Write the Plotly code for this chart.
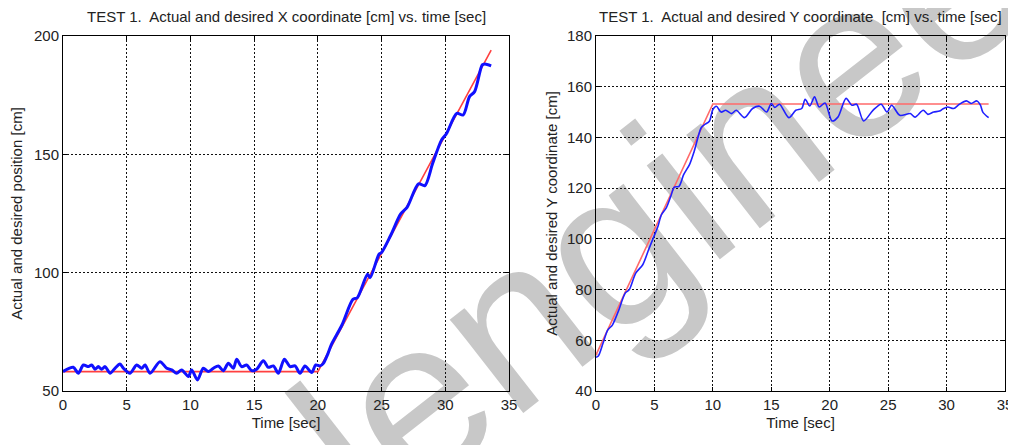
import plotly.graph_objects as go

# ---------------------------------------------------------------------------
# Data
# ---------------------------------------------------------------------------
x_des_t = [0, 20, 33.6]
x_des_v = [58.2, 58.2, 194.0]

x_act_t = [0.0, 0.81, 1.20, 1.60, 1.99, 2.25, 2.51, 2.77, 3.03, 3.30, 3.69, 4.08,
           4.47, 4.74, 5.26, 5.78, 6.17, 6.44, 6.83, 7.61, 8.14, 8.53, 8.92, 9.31,
           9.84, 10.10, 10.55, 11.01, 11.40, 11.80, 12.19, 12.58, 12.98, 13.37,
           13.63, 14.02, 14.41, 14.81, 15.20, 15.72, 16.11, 16.51, 16.90, 17.37,
           17.82, 18.21, 18.60, 18.99, 19.52, 19.83, 20.17, 20.43, 20.8, 21.05,
           21.9, 22.75, 23.1, 23.9, 24.1, 24.8, 25.0, 25.7, 26.5, 27.0, 27.9,
           28.4, 29.0, 29.7, 30.1, 30.9, 31.4, 31.9, 32.3, 32.9, 33.1, 33.6]
x_act_v = [58.2, 60.0, 57.5, 61.0, 60.3, 61.0, 59.2, 60.3, 59.2, 60.3, 57.5, 59.6,
           61.4, 59.6, 57.5, 61.0, 59.6, 61.0, 57.5, 62.4, 59.6, 58.9, 57.5, 58.9,
           56.1, 58.9, 54.7, 59.6, 58.2, 59.6, 60.6, 58.6, 61.7, 59.6,
           63.4, 60.3, 61.0, 58.6, 59.2, 62.8, 60.0, 60.6, 57.5, 63.4,
           60.3, 60.6, 57.5, 60.6, 57.8, 61.0, 60.6, 61.7, 65.9, 69.5,
           78.0, 88.7, 89.4, 99.3, 97.9, 107.8, 108.5, 115.6, 124.8, 127.6, 137.5,
           136.8, 146.0, 156.0, 158.8, 167.3, 166.6, 174.4, 176.5, 187.8, 188.2, 187.4]

y_des_t = [0, 10, 33.6]
y_des_v = [54.2, 153.2, 153.2]

y_act_t = [0.0, 0.2, 0.6, 1.0, 1.4, 1.9, 2.5, 2.85, 3.4, 4.0, 4.5, 4.9, 5.3, 5.6,
           6.0, 6.4, 6.7, 7.1, 7.5, 8.0, 8.4, 9.0, 9.3, 9.7, 10.0, 10.3, 10.7,
           11.1, 11.6, 12.0, 12.7, 13.4, 14.0, 14.6, 15.0, 15.3, 15.7, 16.5, 17.1,
           17.6, 17.9, 18.3, 18.7, 19.1, 19.6, 20.2, 20.7, 21.4, 21.9, 22.3, 22.9,
           23.7, 24.4, 24.9, 25.3, 26.0, 26.9, 27.3, 28.0, 28.4, 28.9, 29.4, 29.7,
           30.1, 30.6, 31.1, 31.7, 32.1, 32.6, 32.9, 33.1, 33.6]
y_act_v = [53.3, 53.8, 58.8, 64.0, 66.0, 71.3, 78.6, 80.0, 86.5, 89.8, 95.7, 100.3,
           104.9, 109.5, 112.1, 116.8, 120.4, 120.7, 125.3, 129.3, 134.5, 143.8,
           145.1, 146.4, 151.0, 152.3, 150.0, 150.7, 149.4, 150.7, 147.8, 151.4,
           152.3, 150.0, 153.4, 151.8, 153.1, 147.8, 150.7, 151.4, 155.0, 152.4,
           156.0, 152.0, 153.6, 146.5, 148.0, 155.4, 152.7, 153.1, 146.5, 150.7,
           153.1, 150.0, 152.7, 148.7, 149.4, 148.0, 150.7, 149.1, 150.0, 150.4,
           151.3, 152.0, 151.4, 153.1, 154.4, 153.4, 154.4, 152.7, 150.0, 147.8]

x_ticks = [0, 5, 10, 15, 20, 25, 30, 35]
left_y_ticks = [50, 100, 150, 200]
right_y_ticks = [40, 60, 80, 100, 120, 140, 160, 180]

FONT = "Liberation Sans, Arial, sans-serif"
TXT = "#222222"

# the page body has an 8px margin, so the figure is drawn from (8, 8) of the window
W, H = 1008, 437


def px(x):
    return (x - 8) / W


def py(y):
    return 1 - (y - 8) / H


fig = go.Figure()

fig.add_trace(go.Scatter(x=x_des_t, y=x_des_v, mode="lines",
                         line=dict(color="#ff4040", width=1.6),
                         xaxis="x", yaxis="y", showlegend=False))
fig.add_trace(go.Scatter(x=x_act_t, y=x_act_v, mode="lines",
                         line=dict(color="#1010ff", width=3, shape="spline", smoothing=0.8),
                         xaxis="x", yaxis="y", showlegend=False))
fig.add_trace(go.Scatter(x=y_des_t, y=y_des_v, mode="lines",
                         line=dict(color="#ff6a6a", width=1.6),
                         xaxis="x2", yaxis="y2", showlegend=False))
fig.add_trace(go.Scatter(x=y_act_t, y=y_act_v, mode="lines",
                         line=dict(color="#2020ff", width=1.6, shape="spline", smoothing=0.8),
                         xaxis="x2", yaxis="y2", showlegend=False))

axis_common = dict(
    showline=True, linecolor="black", linewidth=1, mirror="ticks",
    ticks="inside", ticklen=4, tickcolor="black", automargin=False,
    showgrid=True, gridcolor="#111111", gridwidth=1, griddash="2px,2px",
    zeroline=False, tickfont=dict(family=FONT, size=15, color=TXT),
)
title_font = dict(family=FONT, size=15, color=TXT)

fig.update_layout(
    width=W, height=H,
    margin=dict(l=0, r=0, t=0, b=0),
    paper_bgcolor="white", plot_bgcolor="rgba(0,0,0,0)",
    font=dict(family=FONT, size=15, color=TXT),
    xaxis=dict(domain=[px(63), px(509)], range=[0, 35], tickvals=x_ticks,
               title=dict(text="Time [sec]", standoff=5, font=title_font),
               anchor="y", **axis_common),
    yaxis=dict(domain=[py(391), py(36)], range=[50, 200], tickvals=left_y_ticks,
               title=dict(text="Actual and desired position [cm]", standoff=8, font=title_font),
               anchor="x", **axis_common),
    xaxis2=dict(domain=[px(596), px(1005)], range=[0, 35], tickvals=x_ticks,
                title=dict(text="Time [sec]", standoff=5, font=title_font),
                anchor="y2", **axis_common),
    yaxis2=dict(domain=[py(391), py(36)], range=[40, 180], tickvals=right_y_ticks,
                title=dict(text="Actual and desired Y coordinate [cm]", standoff=5, font=title_font),
                anchor="x2", **axis_common),
)

fig.add_annotation(text="TEST 1.  Actual and desired X coordinate [cm] vs. time [sec]",
                   x=px(286), y=py(16), xref="paper", yref="paper",
                   xanchor="center", yanchor="middle",
                   showarrow=False, font=dict(family=FONT, size=15, color=TXT))
fig.add_annotation(text="TEST 1.  Actual and desired Y coordinate  [cm] vs. time [sec]",
                   x=px(800), y=py(16), xref="paper", yref="paper",
                   xanchor="center", yanchor="middle",
                   showarrow=False, font=dict(family=FONT, size=15, color=TXT))

# grey watermark, kept under the plot contents
wx, wy = px(795), py(75)
fig.add_shape(type="rect", xref="paper", yref="paper",
              x0=wx - 0.01, x1=wx + 0.01, y0=wy - 0.01, y1=wy + 0.01,
              line=dict(width=0), fillcolor="rgba(0,0,0,0)", layer="below",
              label=dict(text="lengineering", textangle=-38, textposition="middle center",
                         font=dict(family=FONT, size=225, color="#c8c8c8")))

fig.write_html("out.html")
